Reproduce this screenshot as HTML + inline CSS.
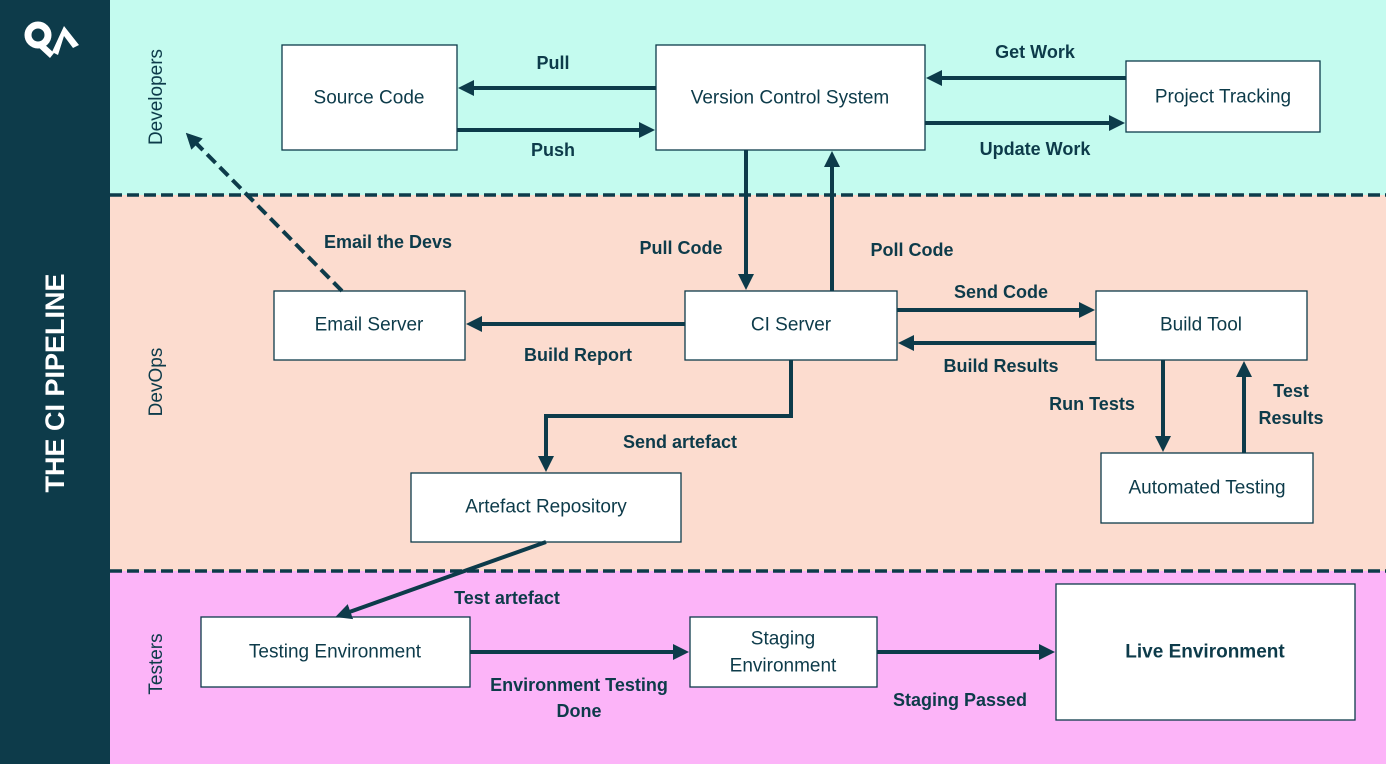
<!DOCTYPE html>
<html><head><meta charset="utf-8"><style>
html,body{margin:0;padding:0;width:1386px;height:764px;overflow:hidden;background:#fff}
svg{display:block;font-family:"Liberation Sans",sans-serif}
.b{fill:#fff;stroke:#0d3b4a;stroke-width:1.3}
.t{font-size:19px;fill:#0d3b4a;text-anchor:middle;dominant-baseline:central}
.l{font-size:18px;font-weight:bold;fill:#0d3b4a;text-anchor:middle;dominant-baseline:central}
.a{stroke:#0d3b4a;stroke-width:4;fill:none}
</style></head><body>
<svg width="1386" height="764" viewBox="0 0 1386 764">
<defs><marker id="m" markerWidth="4" markerHeight="4" refX="2.5" refY="2" orient="auto" markerUnits="strokeWidth"><path d="M0,0 L4,2 L0,4 z" fill="#0d3b4a"/></marker></defs>
<rect x="0" y="0" width="110" height="764" fill="#0d3b4a"/>
<rect x="110" y="0" width="1276" height="195" fill="#c4fbef"/>
<rect x="110" y="195" width="1276" height="376" fill="#fcdccf"/>
<rect x="110" y="571" width="1276" height="193" fill="#fcb4f8"/>
<line x1="110" y1="195" x2="1386" y2="195" stroke="#0d3b4a" stroke-width="3.5" stroke-dasharray="12,5"/>
<line x1="110" y1="571" x2="1386" y2="571" stroke="#0d3b4a" stroke-width="3.5" stroke-dasharray="12,5"/>
<!-- logo -->
<circle cx="38" cy="35" r="10" fill="none" stroke="#fff" stroke-width="7"/>
<path d="M36,45 L50,58 L54,53 L42,42z" fill="#fff"/>
<path d="M52,52 L64,26 L79,45 L73,48 L64,36 L58,55z" fill="#fff"/>
<text transform="translate(64,383) rotate(-90)" font-size="27" font-weight="bold" fill="#fff" text-anchor="middle">THE CI PIPELINE</text>
<text transform="translate(162,97) rotate(-90)" font-size="19" fill="#0d3b4a" text-anchor="middle">Developers</text>
<text transform="translate(162,382) rotate(-90)" font-size="19" fill="#0d3b4a" text-anchor="middle">DevOps</text>
<text transform="translate(162,664) rotate(-90)" font-size="19" fill="#0d3b4a" text-anchor="middle">Testers</text>
<!-- boxes -->
<rect class="b" x="282" y="45" width="175" height="105"/><text class="t" x="369" y="98">Source Code</text>
<rect class="b" x="656" y="45" width="269" height="105"/><text class="t" x="790" y="98">Version Control System</text>
<rect class="b" x="1126" y="61" width="194" height="71"/><text class="t" x="1223" y="97">Project Tracking</text>
<rect class="b" x="274" y="291" width="191" height="69"/><text class="t" x="369" y="325">Email Server</text>
<rect class="b" x="685" y="291" width="212" height="69"/><text class="t" x="791" y="325">CI Server</text>
<rect class="b" x="1096" y="291" width="211" height="69"/><text class="t" x="1201" y="325">Build Tool</text>
<rect class="b" x="1101" y="453" width="212" height="70"/><text class="t" x="1207" y="488">Automated Testing</text>
<rect class="b" x="411" y="473" width="270" height="69"/><text class="t" x="546" y="507">Artefact Repository</text>
<rect class="b" x="201" y="617" width="269" height="70"/><text class="t" x="335" y="652">Testing Environment</text>
<rect class="b" x="690" y="617" width="187" height="70"/><text class="t" x="783" y="639">Staging</text><text class="t" x="783" y="666">Environment</text>
<rect class="b" x="1056" y="584" width="299" height="136"/><text class="t" x="1205" y="652" font-size="24" font-weight="bold">Live Environment</text>
<!-- arrows -->
<line class="a" x1="656" y1="88" x2="464" y2="88" marker-end="url(#m)"/>
<line class="a" x1="457" y1="130" x2="649" y2="130" marker-end="url(#m)"/>
<line class="a" x1="1126" y1="78" x2="932" y2="78" marker-end="url(#m)"/>
<line class="a" x1="925" y1="123" x2="1119" y2="123" marker-end="url(#m)"/>
<line class="a" x1="746" y1="150" x2="746" y2="284" marker-end="url(#m)"/>
<line class="a" x1="832" y1="291" x2="832" y2="157" marker-end="url(#m)"/>
<line class="a" x1="342" y1="291" x2="190" y2="137" stroke-dasharray="12,6" marker-end="url(#m)"/>
<line class="a" x1="685" y1="324" x2="472" y2="324" marker-end="url(#m)"/>
<line class="a" x1="897" y1="310" x2="1089" y2="310" marker-end="url(#m)"/>
<line class="a" x1="1096" y1="343" x2="904" y2="343" marker-end="url(#m)"/>
<line class="a" x1="1163" y1="360" x2="1163" y2="446" marker-end="url(#m)"/>
<line class="a" x1="1244" y1="453" x2="1244" y2="367" marker-end="url(#m)"/>
<polyline class="a" points="791,360 791,416 546,416 546,466" marker-end="url(#m)"/>
<line class="a" x1="546" y1="542" x2="341" y2="615" marker-end="url(#m)"/>
<line class="a" x1="470" y1="652" x2="683" y2="652" marker-end="url(#m)"/>
<line class="a" x1="877" y1="652" x2="1049" y2="652" marker-end="url(#m)"/>
<!-- labels -->
<text class="l" x="553" y="63">Pull</text>
<text class="l" x="553" y="150">Push</text>
<text class="l" x="1035" y="52">Get Work</text>
<text class="l" x="1035" y="149">Update Work</text>
<text class="l" x="681" y="248">Pull Code</text>
<text class="l" x="912" y="250">Poll Code</text>
<text class="l" x="388" y="242">Email the Devs</text>
<text class="l" x="578" y="355">Build Report</text>
<text class="l" x="1001" y="292">Send Code</text>
<text class="l" x="1001" y="366">Build Results</text>
<text class="l" x="1092" y="404">Run Tests</text>
<text class="l" x="1291" y="391">Test</text>
<text class="l" x="1291" y="418">Results</text>
<text class="l" x="680" y="442">Send artefact</text>
<text class="l" x="507" y="598">Test artefact</text>
<text class="l" x="579" y="685">Environment Testing</text>
<text class="l" x="579" y="711">Done</text>
<text class="l" x="960" y="700">Staging Passed</text>
</svg>
</body></html>
